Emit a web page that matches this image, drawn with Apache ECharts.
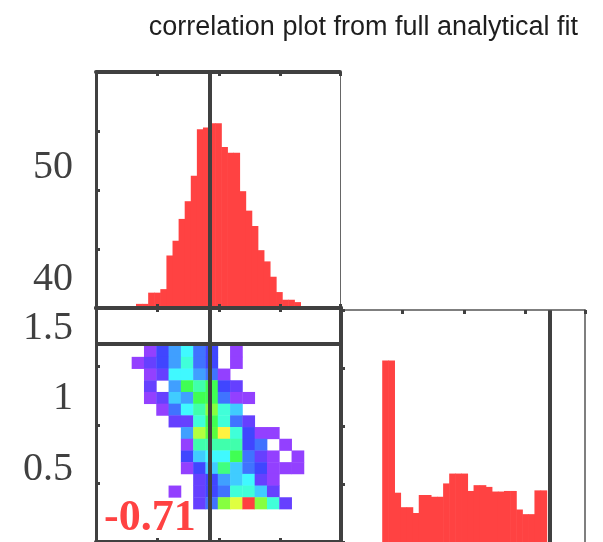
<!DOCTYPE html>
<html><head><meta charset="utf-8">
<script src="https://cdn.jsdelivr.net/npm/echarts@6/dist/echarts.min.js"></script>
<style>html,body{margin:0;padding:0;background:#fff}#c{width:603px;height:542px}</style>
</head><body><div id="c"></div>
<script>
// ---------------- data ----------------
const titleText = 'correlation plot from full analytical fit';
const corrLabel = '-0.71';

// parameter A (horizontal axis of the left column)
const histAStart = 0.65;
const histABinWidth = 0.099;
const histACounts = [7,7,26,26,32,89,114,151,181,224,303,306,313,313,273,263,263,198,165,139,98,79,53,27,14,14,10];

// parameter B (vertical axis of the 2D panel, horizontal axis of the lower-right histogram)
const histBStart = 0.67;
const histBBinWidth = 0.099;
const histBCounts = [313,313,85,60,60,50,81,81,78,78,101,118,118,118,88,98,98,95,87,87,88,88,56,48,48,89,89];

// true values
const truthA = 1.854;
const truthB = 3.39;

// 2D histogram (rows from highest B down to lowest B, columns from lowest A)
const cellAStart = 0.58;
const cellBStart = 0.565;
const cellSize = 0.2;
const cellCounts = [
  [0,1,3,5,7,4,3,0,1,0,0,0,0,0],
  [1,2,3,5,8,4,3,0,1,0,0,0,0,0],
  [0,1,2,7,7,5,4,1,0,0,0,0,0,0],
  [0,2,0,5,11,9,11,3,2,0,0,0,0,0],
  [0,1,2,6,5,11,11,4,1,1,0,0,0,0],
  [0,0,1,4,7,9,13,8,6,0,0,0,0,0],
  [0,0,0,2,2,8,11,8,4,2,0,0,0,0],
  [0,0,0,0,5,14,12,16,8,3,1,1,0,0],
  [0,0,0,0,1,9,9,9,9,3,4,0,1,0],
  [0,0,0,0,3,6,7,7,11,4,2,1,0,1],
  [0,0,0,0,1,3,6,10,6,4,3,1,1,1],
  [0,0,0,0,0,2,3,5,6,7,2,1,0,0],
  [0,0,0,1,0,2,3,4,8,8,6,2,0,0],
  [0,0,0,0,0,2,4,13,15,20,13,8,2,0]
];

// tick labels
const labelValuesTop = [40, 50];
const labelTextTop = ['40', '50'];
const labelValuesBottom = [0.5, 1, 1.5];
const labelTextBottom = ['0.5', '1', '1.5'];

// ---------------- build ----------------
const histAData = histACounts.map((c, i) => [histAStart + i * histABinWidth, histAStart + (i + 1) * histABinWidth, c]);
const histBData = histBCounts.map((c, i) => [histBStart + i * histBBinWidth, histBStart + (i + 1) * histBBinWidth, c]);
const cellData = [];
const nRows = cellCounts.length;
cellCounts.forEach((row, r) => {
  row.forEach((c, k) => {
    if (c > 0) {
      const b0 = cellBStart + (nRows - 1 - r) * cellSize;
      const a0 = cellAStart + k * cellSize;
      cellData.push([a0, a0 + cellSize, b0, b0 + cellSize, c]);
    }
  });
});

function hsvHex(h) {
  const s = 0.75, v = 1, c = v * s;
  const x = c * (1 - Math.abs((h / 60) % 2 - 1));
  const m = v - c;
  let r = 0, g = 0, b = 0;
  if (h < 60) { r = c; g = x; } else if (h < 120) { r = x; g = c; }
  else if (h < 180) { g = c; b = x; } else if (h < 240) { g = x; b = c; }
  else if (h < 300) { r = x; b = c; } else { r = c; b = x; }
  const to = t => Math.round((t + m) * 255).toString(16).padStart(2, '0');
  return '#' + to(r) + to(g) + to(b);
}
const palette = [];
for (let i = 0; i < 20; i++) palette.push(hsvHex(266 - i * 266 / 19));

const DARK = '#404040';
const RED = '#ff4242';
const labelFont = { fontFamily: 'Liberation Serif', fontSize: 40, color: DARK };

function histRender(params, api) {
  const p0 = api.coord([api.value(0), api.value(2)]);
  const p1 = api.coord([api.value(1), 0]);
  const rect = echarts.graphic.clipRectByRect(
    { x: p0[0], y: p0[1], width: p1[0] - p0[0] + 0.6, height: p1[1] - p0[1] },
    { x: params.coordSys.x, y: params.coordSys.y, width: params.coordSys.width, height: params.coordSys.height });
  return rect && { type: 'rect', shape: rect, style: { fill: RED } };
}
function cellRender(params, api) {
  const p0 = api.coord([api.value(0), api.value(3)]);
  const p1 = api.coord([api.value(1), api.value(2)]);
  return { type: 'rect', shape: { x: p0[0], y: p0[1], width: p1[0] - p0[0] + 0.4, height: p1[1] - p0[1] + 0.4 },
    style: { fill: api.visual('color') } };
}
function truthLine(axisKey, val) {
  const d = {}; d[axisKey] = val;
  return { silent: true, symbol: ['none', 'none'], animation: false,
    label: { show: false }, lineStyle: { color: DARK, width: 4, type: 'solid' }, data: [d] };
}
function ax(extra) {
  return Object.assign({
    type: 'value', z: 5,
    axisLine: { show: true, onZero: false, lineStyle: { color: DARK, width: 4 } },
    axisTick: { show: true, inside: true, length: 4, lineStyle: { color: DARK, width: 3 } },
    axisLabel: { show: false }, splitLine: { show: false }
  }, extra);
}
const noTick = { show: false };

const option = {
  animation: false,
  backgroundColor: '#fff',
  title: { text: titleText, right: 20, top: 9,
    textStyle: { fontFamily: 'Liberation Sans', fontWeight: 'normal', fontSize: 27, color: '#1e1e1e' } },
  grid: [
    { left: 96, top: 72, width: 244, height: 236 },
    { left: 96, top: 308, width: 245, height: 236 },
    { left: 341, top: 310, width: 244, height: 234 }
  ],
  xAxis: [
    ax({ gridIndex: 0, position: 'bottom', min: 0, max: 3.967, interval: 1 }),
    ax({ gridIndex: 0, position: 'top', min: 0, max: 3.967, interval: 1 }),
    ax({ gridIndex: 1, position: 'bottom', min: 0, max: 3.984, interval: 1 }),
    ax({ gridIndex: 1, position: 'top', min: 0, max: 3.984, interval: 1 }),
    ax({ gridIndex: 2, position: 'top', min: 0, max: 3.967, interval: 1,
      axisLine: { show: true, onZero: false, lineStyle: { color: '#555', width: 1.5 } } }),
  ],
  yAxis: [
    ax({ gridIndex: 0, position: 'left', min: 0, max: 400, interval: 100,
      axisLine: { show: true, onZero: false, lineStyle: { color: DARK, width: 3 } } }),
    ax({ gridIndex: 0, position: 'right', min: 0, max: 400, interval: 100, axisTick: noTick,
      axisLine: { show: true, onZero: false, lineStyle: { color: '#666', width: 1 } } }),
    { type: 'value', gridIndex: 0, position: 'left', min: 37.5, max: 58.57,
      axisLine: { show: false }, axisTick: { show: false }, splitLine: { show: false },
      axisLabel: Object.assign({ show: true, margin: 23, customValues: labelValuesTop,
        formatter: v => labelTextTop[labelValuesTop.indexOf(v)] }, labelFont) },
    ax({ gridIndex: 1, position: 'left', min: 0, max: 4, interval: 1,
      axisLine: { show: true, onZero: false, lineStyle: { color: DARK, width: 3 } } }),
    ax({ gridIndex: 1, position: 'right', min: 0, max: 4, interval: 1, axisTick: noTick }),
    { type: 'value', gridIndex: 1, position: 'left', min: -0.014, max: 1.642,
      axisLine: { show: false }, axisTick: { show: false }, splitLine: { show: false },
      axisLabel: Object.assign({ show: true, margin: 23, customValues: labelValuesBottom,
        formatter: v => labelTextBottom[labelValuesBottom.indexOf(v)] }, labelFont) },
    ax({ gridIndex: 2, position: 'left', min: 0, max: 400, interval: 100 }),
    ax({ gridIndex: 2, position: 'right', min: 0, max: 400, interval: 100, axisTick: noTick,
      axisLine: { show: true, onZero: false, lineStyle: { color: '#555', width: 1.5 } } })
  ],
  visualMap: {
    type: 'continuous', show: false, min: 1, max: 20, dimension: 4, seriesIndex: 1,
    inRange: { color: palette }
  },
  series: [
    { type: 'custom', xAxisIndex: 0, yAxisIndex: 0, renderItem: histRender, data: histAData,
      encode: { x: [0, 1], y: 2 }, markLine: truthLine('xAxis', truthA) },
    { type: 'custom', xAxisIndex: 2, yAxisIndex: 3, renderItem: cellRender, data: cellData,
      encode: { x: [0, 1], y: [2, 3] },
      markLine: Object.assign(truthLine('xAxis', truthA), { data: [{ xAxis: truthA }, { yAxis: truthB }] }) },
    { type: 'custom', xAxisIndex: 4, yAxisIndex: 6, renderItem: histRender, data: histBData,
      encode: { x: [0, 1], y: 2 }, markLine: truthLine('xAxis', truthB) }
  ],
  graphic: [
    { type: 'text', left: 104, top: 497, z: 10,
      style: { text: corrLabel, fill: RED, font: 'bold 44px "Liberation Serif"' } }
  ]
};
const chart = echarts.init(document.getElementById('c'), null, { renderer: 'canvas' });
chart.setOption(option);
</script>
</body></html>
